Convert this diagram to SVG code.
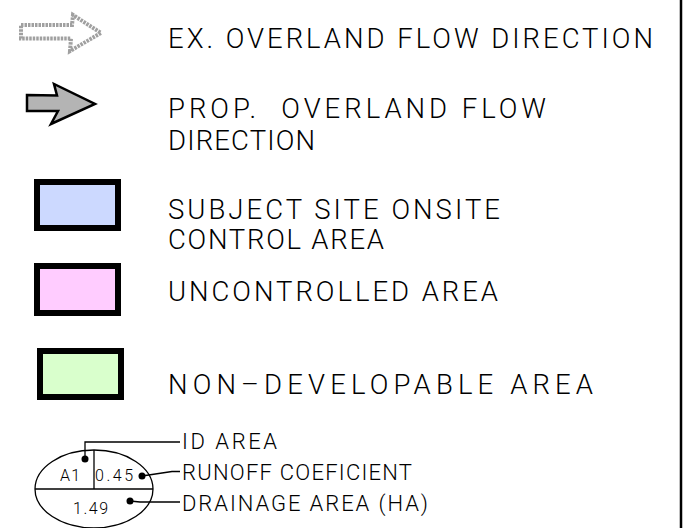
<svg xmlns="http://www.w3.org/2000/svg" width="687" height="528" viewBox="0 0 687 528">
<style>
.t{font-family:Roboto,"Liberation Sans",sans-serif;font-weight:300;fill:#000}
.big{font-size:27.5px}
.sm{font-size:22px}
.xs{font-size:16px}
.sw{stroke:#000;stroke-width:6;stroke-linejoin:miter}
.ln{stroke:#000;stroke-width:1.3;fill:none}
</style>
<rect width="687" height="528" fill="#fff"/>
<line x1="681" y1="0" x2="681" y2="528" stroke="#000" stroke-width="2.5"/>

<g id="ex-arrow">
<polygon points="21,25 72,25 73,15 101,33 70,51 71,38.5 21,38.5" fill="none" stroke="#a0a0a0" stroke-width="4" stroke-dasharray="2.5 1" stroke-linejoin="miter"/>
<text class="t big" x="168" y="48" textLength="485" lengthAdjust="spacing">EX. OVERLAND FLOW DIRECTION</text>
</g>

<g id="prop-arrow">
<polygon points="27,95 57,95.5 54,84 95,104 51,124 58,111 27,111" fill="#b4b4b4" stroke="#000" stroke-width="2.5" stroke-linejoin="miter"/>
<text class="t big" x="168" y="118" textLength="378" lengthAdjust="spacing" xml:space="preserve">PROP.  OVERLAND FLOW</text>
<text class="t big" x="168" y="150" textLength="147" lengthAdjust="spacing">DIRECTION</text>
</g>

<g id="onsite-area">
<rect x="37" y="182" width="81" height="46" fill="#ccd9ff" class="sw"/>
<text class="t big" x="168" y="219" textLength="332" lengthAdjust="spacing">SUBJECT SITE ONSITE</text>
<text class="t big" x="168" y="249" textLength="216" lengthAdjust="spacing">CONTROL AREA</text>
</g>

<g id="uncontrolled-area">
<rect x="37" y="266" width="81" height="47" fill="#ffccff" class="sw"/>
<text class="t big" x="168" y="301" textLength="330" lengthAdjust="spacing">UNCONTROLLED AREA</text>
</g>

<g id="non-developable-area">
<rect x="40" y="351" width="81" height="46" fill="#d9ffcc" class="sw"/>
<text class="t big" x="168" y="394" textLength="425" lengthAdjust="spacing">NON–DEVELOPABLE AREA</text>
</g>

<g id="area-tag">
<ellipse cx="94" cy="489" rx="59" ry="39" class="ln"/>
<line x1="35" y1="489" x2="153" y2="489" class="ln"/>
<line x1="94" y1="450" x2="94" y2="489" class="ln"/>
<text class="t xs" x="60" y="480.5" textLength="20" lengthAdjust="spacing">A1</text>
<text class="t xs" x="95" y="480.5" textLength="38" lengthAdjust="spacing">0.45</text>
<text class="t xs" x="73" y="513.5" textLength="35" lengthAdjust="spacing">1.49</text>
<circle cx="85" cy="459" r="3.5" fill="#000"/>
<circle cx="142" cy="476" r="3.5" fill="#000"/>
<circle cx="130" cy="501" r="3.5" fill="#000"/>
</g>

<g id="connectors">
<polyline points="85,459 85,442 180,442" class="ln"/>
<polyline points="142,476 172,471.5 180,471.5" class="ln"/>
<polyline points="130,501 140,502 180,502" class="ln"/>
</g>

<g id="tag-labels">
<text class="t sm" x="182" y="449" textLength="95" lengthAdjust="spacing">ID AREA</text>
<text class="t sm" x="182" y="480" textLength="230" lengthAdjust="spacing">RUNOFF COEFICIENT</text>
<text class="t sm" x="182" y="511" textLength="246" lengthAdjust="spacing">DRAINAGE AREA (HA)</text>
</g>
</svg>
